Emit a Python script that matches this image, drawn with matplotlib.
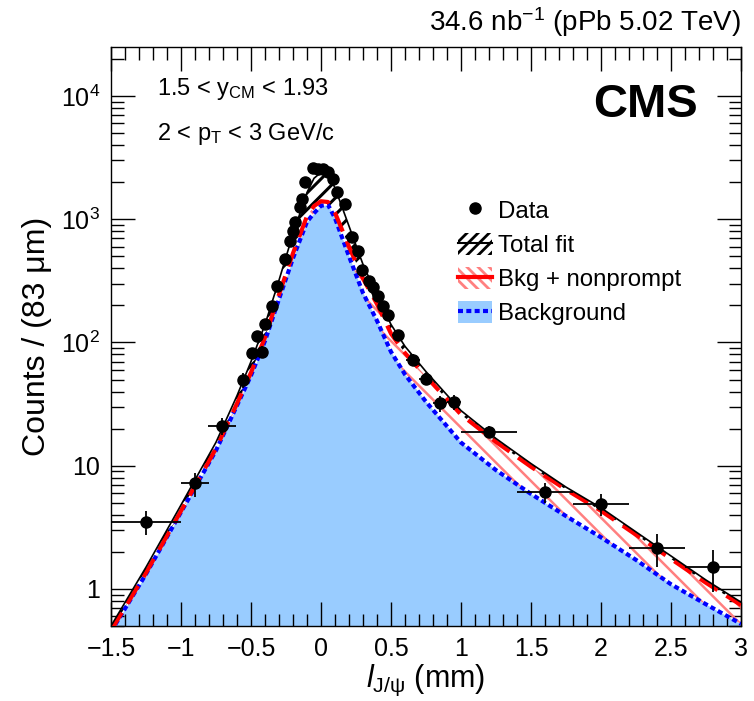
import numpy as np
import matplotlib
matplotlib.use('Agg')
import matplotlib.pyplot as plt
from matplotlib.ticker import MultipleLocator, LogLocator, FuncFormatter, NullFormatter
from matplotlib.lines import Line2D
from matplotlib.patches import Patch

plt.rcParams['font.family'] = ['Liberation Sans', 'DejaVu Sans']
plt.rcParams['mathtext.fontset'] = 'custom'
plt.rcParams['mathtext.rm'] = 'Liberation Sans'
plt.rcParams['mathtext.it'] = 'Liberation Sans:italic'
plt.rcParams['mathtext.bf'] = 'Liberation Sans:bold'
plt.rcParams['hatch.linewidth'] = 2.0

# data points (l_J/psi in mm, counts per 83 um)
x_data = [-1.25, -0.90, -0.71, -0.557, -0.493, -0.457, -0.421, -0.40, -0.352, -0.316,
          -0.257, -0.221, -0.198, -0.186, -0.15, -0.138, -0.114, -0.055, -0.021, 0.014,
          0.05, 0.086, 0.112, 0.171, 0.219, 0.264, 0.293, 0.343, 0.371, 0.407,
          0.443, 0.479, 0.55, 0.657, 0.75, 0.85, 0.95, 1.2, 1.6, 2.0, 2.4, 2.8]
y_data = [3.5, 7.2, 21, 50, 82, 113, 84, 141, 199, 288,
          475, 668, 805, 942, 1247, 1455, 1996, 2630, 2546, 2546,
          2410, 2113, 1660, 1325, 716, 551, 389, 315, 282, 239,
          199, 167, 115, 72, 51, 32, 33, 18.8, 6.1, 4.9, 2.15, 1.5]
y_err = [0.75, 1.6, 3.2, 7, 9, 11, 9, 12, 15, 18,
         24, 28, 31, 33, 38, 41, 48, 55, 54, 54,
         53, 49, 44, 39, 29, 25, 21, 19, 18, 16,
         15, 13, 11, 8, 6, 4.5, 4.5, 2.0, 1.1, 1.0, 0.65, 0.55]
x_err = [0.25, 0.1, 0.1, 0.03, 0.02, 0.02, 0.02, 0.02, 0.02, 0.02,
         0.02, 0.02, 0.02, 0.02, 0.02, 0.02, 0.02, 0.02, 0.02, 0.02,
         0.02, 0.02, 0.02, 0.02, 0.02, 0.02, 0.02, 0.02, 0.02, 0.02,
         0.02, 0.02, 0.04, 0.05, 0.05, 0.05, 0.05, 0.2, 0.2, 0.2, 0.2, 0.2]

# fit curves
x_curve = [-1.5, -1.25, -1.0, -0.75, -0.6, -0.5, -0.4, -0.3, -0.2, -0.1, -0.05, 0.0, 0.05,
           0.1, 0.2, 0.3, 0.4, 0.5, 0.6, 0.75, 1.0, 1.25, 1.5, 1.75, 2.0, 2.25, 2.5, 2.75, 3.0]
total_fit = [0.5, 1.5, 4.8, 15.5, 37, 70, 140, 320, 760, 1650, 2150, 2400, 2300,
             1800, 880, 430, 240, 140, 93, 58, 28, 16.6, 10.4, 6.7, 4.55, 2.9, 1.85, 1.18, 0.78]
bkg_nonprompt = [0.46, 1.35, 4.3, 13.8, 32, 57, 110, 245, 530, 1060, 1280, 1400, 1380,
                 1130, 600, 330, 205, 118, 82, 53, 26, 15.6, 9.8, 6.4, 4.3, 2.75, 1.75, 1.12, 0.74]
background = [0.45, 1.32, 4.2, 13.3, 30.8, 54, 103, 225, 483, 955, 1120, 1290, 1310,
              1020, 500, 252, 150, 84, 55, 33, 15.4, 9.2, 5.9, 3.9, 2.62, 1.72, 1.09, 0.75, 0.52]

fig = plt.figure(figsize=(7.54, 7.01), dpi=100)
ax = fig.add_axes([111 / 754, 1 - 626 / 701, 630 / 754, 579 / 701])

ax.set_xlim(-1.5, 3.0)
ax.set_yscale('log')
ax.set_ylim(0.5, 2.5e4)

ax.fill_between(x_curve, 0.1, background, color='#99ccff', lw=0, zorder=1)
with plt.rc_context({'hatch.linewidth': 1.8}):
    ax.fill_between(x_curve, background, bkg_nonprompt, facecolor='none',
                    edgecolor='#ff8080', hatch='\\\\', lw=0, zorder=2)
with plt.rc_context({'hatch.linewidth': 2.2}):
    ax.fill_between(x_curve, bkg_nonprompt, total_fit, facecolor='none',
                    edgecolor='black', hatch='//', lw=0, zorder=2)
ax.plot(x_curve, background, color='#0000ff', lw=3, ls=(0, (1.2, 0.8)), zorder=3)
ax.plot(x_curve, bkg_nonprompt, color='#ff0000', lw=3, ls=(0, (5, 2.5)), zorder=4)
ax.plot(x_curve, total_fit, color='black', lw=1.2, zorder=4)
ax.errorbar(x_data, y_data, xerr=x_err, yerr=y_err, fmt='o', color='black',
            ms=8, lw=1.3, capsize=0, zorder=5)

ax.xaxis.set_major_locator(MultipleLocator(0.5))
ax.xaxis.set_minor_locator(MultipleLocator(0.1))
ax.yaxis.set_major_locator(LogLocator(base=10))
ax.yaxis.set_minor_locator(LogLocator(base=10, subs=np.arange(2, 10)))
ax.yaxis.set_minor_formatter(NullFormatter())


def ylab(v, pos):
    if v == 1:
        return '1'
    if v == 10:
        return '10'
    return r'$10^{%d}$' % round(np.log10(v))


ax.yaxis.set_major_formatter(FuncFormatter(ylab))
ax.xaxis.set_major_formatter(FuncFormatter(lambda v, p: ('%g' % v).replace('-', '\u2212')))
ax.tick_params(which='both', direction='in', top=True, right=True, labelsize=18, width=1)
ax.tick_params(which='major', length=17, pad=8)
ax.tick_params(which='minor', length=9)
for s in ax.spines.values():
    s.set_linewidth(1)

ax.set_xlabel(r'$\mathit{l}_{\mathrm{J/\psi}}$ (mm)', fontsize=22, labelpad=1)
ax.set_ylabel('Counts / (83 \u03bcm)', fontsize=23, labelpad=6)

fig.text(741 / 754, 1 - 22 / 701, r'34.6 nb$^{-1}$ (pPb 5.02 TeV)', ha='right', va='center', fontsize=20)
fig.text(698 / 754, 1 - 117 / 701, 'CMS', ha='right', va='baseline', fontsize=34, fontweight='bold')
fig.text(157 / 754, 1 - 95 / 701, r'1.5 < y$_{\mathrm{CM}}$ < 1.93', ha='left', va='baseline', fontsize=17)
fig.text(157 / 754, 1 - 140 / 701, r'2 < p$_{\mathrm{T}}$ < 3 GeV/c', ha='left', va='baseline', fontsize=17)

handles = [
    Line2D([], [], marker='o', color='black', ls='none', ms=8),
    (Patch(facecolor='none', edgecolor='black', hatch='///', lw=0),
     Line2D([], [], color='black', lw=1.5)),
    (Patch(facecolor='none', edgecolor='#ff8080', hatch='\\\\\\', lw=0),
     Line2D([], [], color='#ff0000', lw=3)),
    (Patch(facecolor='#99ccff', lw=0),
     Line2D([], [], color='#0000ff', lw=3, ls=(0, (1.2, 0.8)))),
]
labels = ['Data', 'Total fit', 'Bkg + nonprompt', 'Background']
fig.legend(handles, labels, loc='upper left', bbox_to_anchor=(458 / 754, 1 - 199 / 701),
           frameon=False, fontsize=17.3, handlelength=1.4, handleheight=1.0,
           handletextpad=0.25, labelspacing=0.42, borderpad=0, borderaxespad=0)

fig.savefig('out.png', dpi=100)
